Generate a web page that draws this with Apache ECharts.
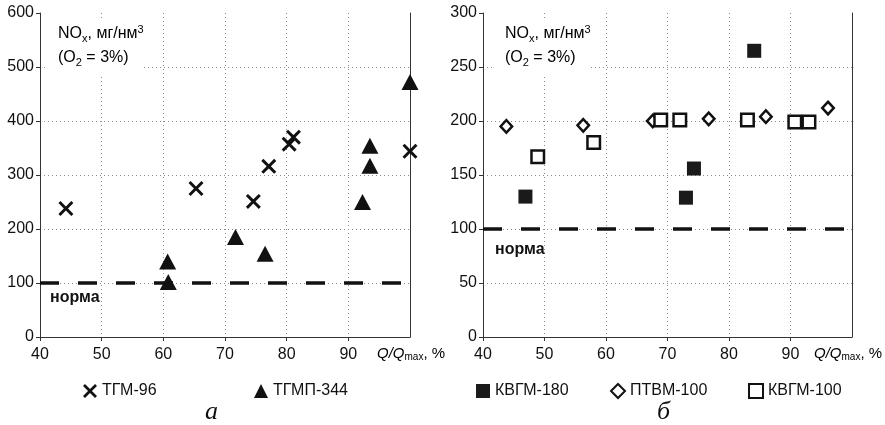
<!DOCTYPE html>
<html>
<head>
<meta charset="utf-8">
<script src="https://cdn.jsdelivr.net/npm/echarts@6/dist/echarts.min.js"></script>
<style>
  html, body { margin: 0; padding: 0; background: #fff; }
  #chart { width: 885px; height: 425px; }
</style>
</head>
<body>
<div id="chart"></div>
<script>
// data: [Q/Qmax %, NOx mg/nm3]
const xTicks = [40, 50, 60, 70, 80, 90, 100];
const yTicksA = [0, 100, 200, 300, 400, 500, 600];
const yTicksB = [0, 50, 100, 150, 200, 250, 300];
const normValue = 100;

const tgm96 = [[44.2, 238], [65.3, 275], [74.6, 251], [77.1, 316], [80.4, 357], [81.1, 370], [100, 344]];
const tgmp344 = [[60.7, 140], [60.8, 102], [71.7, 185], [76.5, 154], [92.3, 250], [93.5, 317], [93.5, 354], [100, 472]];

const kvgm180 = [[46.9, 130], [73.0, 129], [74.3, 156], [84.1, 265]];
const ptvm100 = [[43.8, 195], [56.3, 196], [67.6, 200], [76.7, 202], [86.0, 204], [96.1, 212]];
const kvgm100 = [[48.9, 167], [58.0, 180], [68.9, 201], [72.0, 201], [83.0, 201], [90.7, 199], [93.0, 199]];

const FONT = "'Liberation Sans', Arial, sans-serif";
const crossPath = "path://M0,1.4L1.4,0L5,3.6L8.6,0L10,1.4L6.4,5L10,8.6L8.6,10L5,6.4L1.4,10L0,8.6L3.6,5Z";

function xAxisOf(gi) {
  return {
    gridIndex: gi,
    type: "value",
    min: xTicks[0],
    max: xTicks[xTicks.length - 1],
    interval: xTicks[1] - xTicks[0],
    axisLine: { lineStyle: { color: "#333", width: 1 } },
    axisTick: { length: 4, lineStyle: { color: "#333" } },
    axisLabel: { color: "#111", fontSize: 16, fontFamily: FONT, margin: 10, showMaxLabel: false },
    splitLine: { show: true, showMinLine: false, showMaxLine: false, lineStyle: { color: "#8c8c8c", type: [1, 3], width: 1 } },
  };
}

function yAxisOf(gi, ticks) {
  return {
    gridIndex: gi,
    type: "value",
    min: ticks[0],
    max: ticks[ticks.length - 1],
    interval: ticks[1] - ticks[0],
    axisLine: { show: true, lineStyle: { color: "#333", width: 1 } },
    axisTick: { show: true, length: 4, lineStyle: { color: "#333" } },
    axisLabel: { color: "#111", fontSize: 16, fontFamily: FONT, margin: 6 },
    splitLine: { show: true, showMinLine: false, showMaxLine: false, lineStyle: { color: "#8c8c8c", type: [1, 3], width: 1 } },
  };
}

// right frame line of each panel
function frameAxisOf(gi, ticks) {
  return {
    gridIndex: gi,
    type: "value",
    position: "right",
    min: ticks[0],
    max: ticks[ticks.length - 1],
    interval: ticks[1] - ticks[0],
    axisLine: { show: true, lineStyle: { color: "#333", width: 1 } },
    axisTick: { show: false },
    axisLabel: { show: false },
    splitLine: { show: false },
  };
}

const normLine = {
  silent: true,
  symbol: "none",
  label: { show: false },
  lineStyle: { color: "#111", width: 3.5, type: [19, 19] },
  data: [{ yAxis: normValue }],
};

const richNote = {
  t: { fontSize: 16, fontFamily: FONT, color: "#111", lineHeight: 20 },
  sub: { fontSize: 11, fontFamily: FONT, color: "#111", verticalAlign: "bottom", lineHeight: 20 },
  sup: { fontSize: 11, fontFamily: FONT, color: "#111", verticalAlign: "top", lineHeight: 20 },
};
const richName = {
  q: { fontSize: 15, fontFamily: FONT, fontStyle: "italic", color: "#111", lineHeight: 18 },
  t: { fontSize: 15, fontFamily: FONT, color: "#111", lineHeight: 18 },
  sub: { fontSize: 10, fontFamily: FONT, color: "#111", verticalAlign: "bottom", lineHeight: 18 },
};

function noteGroup(x, y) {
  return [
    { type: "rect", left: x - 12, top: y - 6, z: 5, shape: { width: 97, height: 56 }, style: { fill: "#fff" } },
    { type: "text", left: x, top: y, z: 6, style: { text: "{t|NO}{sub|x}{t|, мг/нм}{sup|3}", rich: richNote } },
    { type: "text", left: x, top: y + 26, z: 6, style: { text: "{t|(O}{sub|2}{t| = 3%)}", rich: richNote } },
  ];
}

const option = {
  animation: false,
  backgroundColor: "#fff",
  grid: [
    { left: 40, right: 475, top: 13, bottom: 88 },
    { left: 483, right: 33, top: 13, bottom: 88 },
  ],
  xAxis: [xAxisOf(0), xAxisOf(1)],
  yAxis: [yAxisOf(0, yTicksA), yAxisOf(1, yTicksB), frameAxisOf(0, yTicksA), frameAxisOf(1, yTicksB)],
  legend: [
    { data: ["ТГМ-96"], left: 78, top: 378 },
    { data: ["ТГМП-344"], left: 249, top: 378 },
    { data: ["КВГМ-180"], left: 471, top: 378 },
    { data: ["ПТВМ-100"], left: 605, top: 378 },
    { data: ["КВГМ-100"], left: 743, top: 378 },
  ].map((l) => Object.assign(l, {
    itemWidth: 14,
    itemHeight: 14,
    textStyle: { fontSize: 16, fontFamily: FONT, color: "#111" },
  })),
  series: [
    {
      name: "ТГМ-96", type: "scatter", xAxisIndex: 0, yAxisIndex: 0,
      symbol: crossPath, symbolSize: 15,
      itemStyle: { color: "#111", opacity: 1 },
      data: tgm96,
      markLine: normLine,
    },
    {
      name: "ТГМП-344", type: "scatter", xAxisIndex: 0, yAxisIndex: 0,
      symbol: "triangle", symbolSize: [17, 16],
      itemStyle: { color: "#111", opacity: 1 },
      data: tgmp344,
    },
    {
      name: "КВГМ-180", type: "scatter", xAxisIndex: 1, yAxisIndex: 1,
      symbol: "rect", symbolSize: 14,
      itemStyle: { color: "#1a1a1a", opacity: 1 },
      data: kvgm180,
      markLine: normLine,
    },
    {
      name: "ПТВМ-100", type: "scatter", xAxisIndex: 1, yAxisIndex: 1,
      symbol: "diamond", symbolSize: [11.5, 12.5],
      itemStyle: { color: "#fff", borderColor: "#111", borderWidth: 2.5, opacity: 1 },
      data: ptvm100,
    },
    {
      name: "КВГМ-100", type: "scatter", xAxisIndex: 1, yAxisIndex: 1,
      symbol: "rect", symbolSize: 12.5,
      itemStyle: { color: "#fff", borderColor: "#111", borderWidth: 2.5, opacity: 1 },
      data: kvgm100,
    },
  ],
  graphic: [
    ...noteGroup(58, 24),
    ...noteGroup(505, 24),
    { type: "text", left: 377, top: 346, style: { text: "{q|Q/Q}{sub|max}{t|, %}", rich: richName } },
    { type: "text", left: 814, top: 346, style: { text: "{q|Q/Q}{sub|max}{t|, %}", rich: richName } },
    { type: "text", left: 50, top: 290, z: 6, style: { text: "норма", fontSize: 16, fontWeight: "bold", fontFamily: FONT, fill: "#111" } },
    { type: "text", left: 495, top: 242, z: 6, style: { text: "норма", fontSize: 16, fontWeight: "bold", fontFamily: FONT, fill: "#111" } },
    { type: "text", left: 205, top: 399, style: { text: "а", fontSize: 26, fontStyle: "italic", fontFamily: "'Liberation Serif', 'Times New Roman', serif", fill: "#111" } },
    { type: "text", left: 657, top: 399, style: { text: "б", fontSize: 26, fontStyle: "italic", fontFamily: "'Liberation Serif', 'Times New Roman', serif", fill: "#111" } },
  ],
};

const chart = echarts.init(document.getElementById("chart"), null, { renderer: "canvas" });
chart.setOption(option);
</script>
</body>
</html>
